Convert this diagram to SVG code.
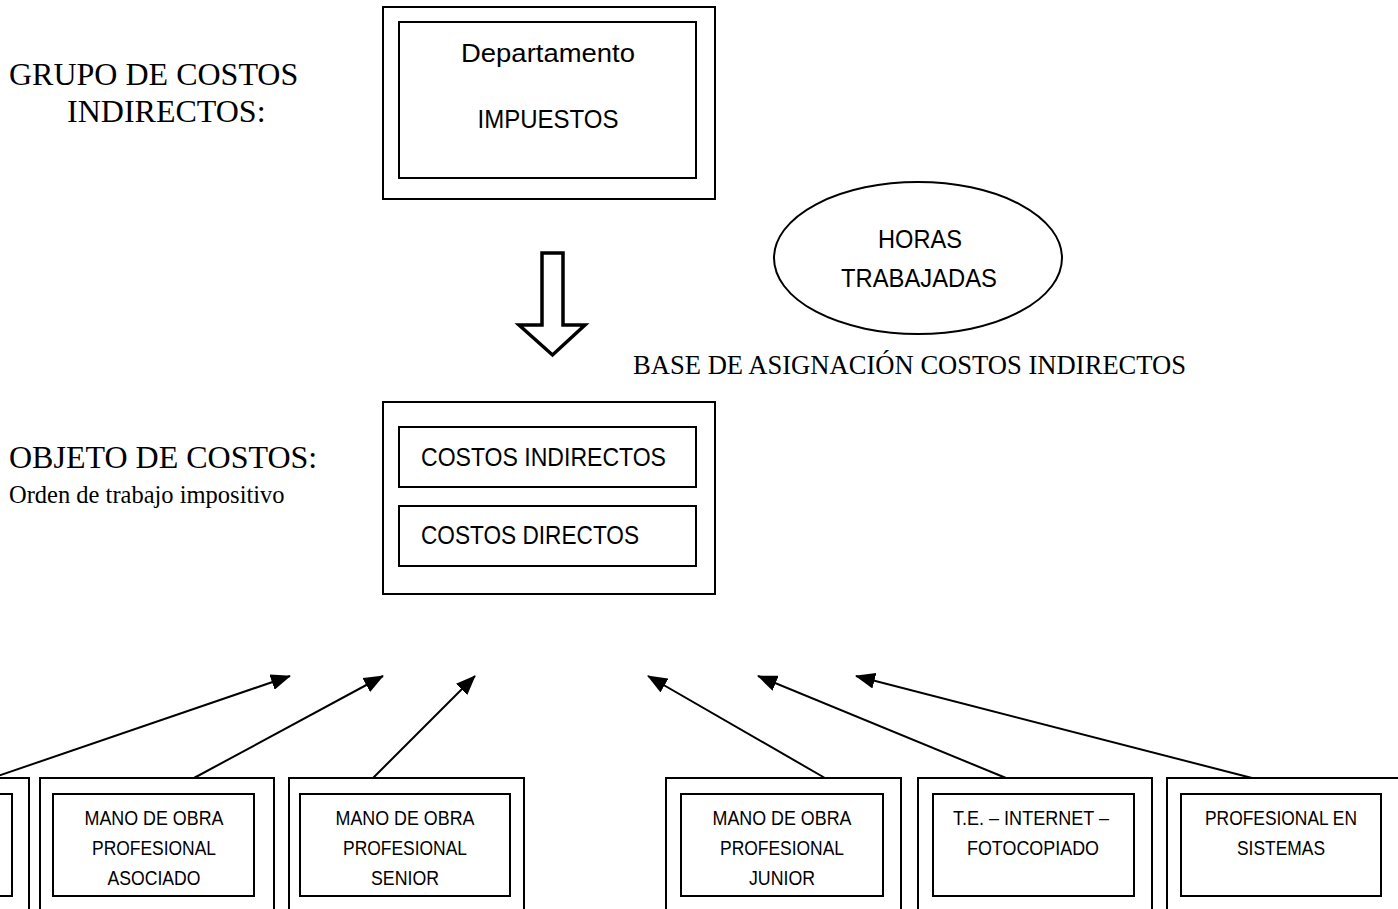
<svg xmlns="http://www.w3.org/2000/svg" width="1398" height="909" viewBox="0 0 1398 909">
<defs>
<marker id="ah" markerUnits="userSpaceOnUse" markerWidth="20" markerHeight="16" refX="19" refY="8" orient="auto">
<path d="M0,0 L20,8 L0,16 Z" fill="#000"/>
</marker>
<style>
.box{fill:none;stroke:#000;stroke-width:2}
.serif{font-family:"Liberation Serif","Times New Roman",serif;fill:#000}
.sans{font-family:"Liberation Sans",Arial,sans-serif;fill:#000}
.big{font-size:26px}
.small{font-size:20px;text-anchor:middle}
.mid{text-anchor:middle}
.conn{stroke:#000;stroke-width:2;fill:none;marker-end:url(#ah)}
</style>
</defs>
<rect width="1398" height="909" fill="#fff"/>

<g id="label-grupo">
<text class="serif" x="9" y="85" font-size="32">GRUPO DE COSTOS</text>
<text class="serif" x="67" y="122" font-size="32">INDIRECTOS:</text>
</g>

<g id="node-departamento">
<rect class="box" x="383" y="7" width="332" height="192"/>
<rect class="box" x="399" y="22" width="297" height="156"/>
<text class="sans big mid" x="548" y="62" textLength="174" lengthAdjust="spacingAndGlyphs">Departamento</text>
<text class="sans big mid" x="548" y="128" textLength="141" lengthAdjust="spacingAndGlyphs">IMPUESTOS</text>
</g>

<g id="node-horas">
<ellipse cx="918" cy="258" rx="144" ry="76" fill="none" stroke="#000" stroke-width="2"/>
<text class="sans big mid" x="920" y="248" textLength="84" lengthAdjust="spacingAndGlyphs">HORAS</text>
<text class="sans big mid" x="919" y="287" textLength="156" lengthAdjust="spacingAndGlyphs">TRABAJADAS</text>
</g>

<g id="label-base">
<text class="serif" x="633" y="374" font-size="26.6">BASE DE ASIGNACIÓN COSTOS INDIRECTOS</text>
</g>

<g id="label-objeto">
<text class="serif" x="9" y="468" font-size="32">OBJETO DE COSTOS:</text>
<text class="serif" x="9" y="503" font-size="24.5">Orden de trabajo impositivo</text>
</g>

<g id="node-objeto">
<rect class="box" x="383" y="402" width="332" height="192"/>
<rect class="box" x="399" y="427" width="297" height="60"/>
<rect class="box" x="399" y="506" width="297" height="60"/>
<text class="sans big" x="421" y="466" textLength="245" lengthAdjust="spacingAndGlyphs">COSTOS INDIRECTOS</text>
<text class="sans big" x="421" y="544" textLength="218" lengthAdjust="spacingAndGlyphs">COSTOS DIRECTOS</text>
</g>

<g id="node-box1">
<rect class="box" x="-206" y="778" width="235" height="160"/>
<rect class="box" x="-189" y="794" width="201" height="102"/>
</g>

<g id="node-asociado">
<rect class="box" x="40" y="778" width="234" height="160"/>
<rect class="box" x="53" y="794" width="201" height="102"/>
<text class="sans small" x="154" y="825" textLength="139" lengthAdjust="spacingAndGlyphs">MANO DE OBRA</text>
<text class="sans small" x="154" y="855" textLength="124" lengthAdjust="spacingAndGlyphs">PROFESIONAL</text>
<text class="sans small" x="154" y="885" textLength="93" lengthAdjust="spacingAndGlyphs">ASOCIADO</text>
</g>

<g id="node-senior">
<rect class="box" x="289" y="778" width="235" height="160"/>
<rect class="box" x="300" y="794" width="210" height="102"/>
<text class="sans small" x="405" y="825" textLength="139" lengthAdjust="spacingAndGlyphs">MANO DE OBRA</text>
<text class="sans small" x="405" y="855" textLength="124" lengthAdjust="spacingAndGlyphs">PROFESIONAL</text>
<text class="sans small" x="405" y="885" textLength="68" lengthAdjust="spacingAndGlyphs">SENIOR</text>
</g>

<g id="node-junior">
<rect class="box" x="666" y="778" width="235" height="160"/>
<rect class="box" x="681" y="794" width="202" height="102"/>
<text class="sans small" x="782" y="825" textLength="139" lengthAdjust="spacingAndGlyphs">MANO DE OBRA</text>
<text class="sans small" x="782" y="855" textLength="124" lengthAdjust="spacingAndGlyphs">PROFESIONAL</text>
<text class="sans small" x="782" y="885" textLength="66" lengthAdjust="spacingAndGlyphs">JUNIOR</text>
</g>

<g id="node-te">
<rect class="box" x="918" y="778" width="234" height="160"/>
<rect class="box" x="933" y="794" width="201" height="102"/>
<text class="sans small" x="1031" y="825" textLength="156" lengthAdjust="spacingAndGlyphs">T.E. – INTERNET –</text>
<text class="sans small" x="1033" y="855" textLength="132" lengthAdjust="spacingAndGlyphs">FOTOCOPIADO</text>
</g>

<g id="node-sistemas">
<rect class="box" x="1167" y="778" width="240" height="160"/>
<rect class="box" x="1181" y="794" width="200" height="102"/>
<text class="sans small" x="1281" y="825" textLength="152" lengthAdjust="spacingAndGlyphs">PROFESIONAL EN</text>
<text class="sans small" x="1281" y="855" textLength="88" lengthAdjust="spacingAndGlyphs">SISTEMAS</text>
</g>

<g id="connectors">
<path d="M542,253 L563,253 L563,325 L585,325 L552.5,355 L519,325 L542,325 Z" fill="#fff" stroke="#000" stroke-width="3.5" stroke-linejoin="miter"/>
<line class="conn" x1="-8" y1="778" x2="290" y2="676"/>
<line class="conn" x1="194" y1="778" x2="383" y2="676"/>
<line class="conn" x1="373" y1="778" x2="475" y2="676"/>
<line class="conn" x1="825" y1="778" x2="648" y2="676"/>
<line class="conn" x1="1006" y1="778" x2="758" y2="676"/>
<line class="conn" x1="1252" y1="778" x2="856" y2="676"/>
</g>
</svg>
